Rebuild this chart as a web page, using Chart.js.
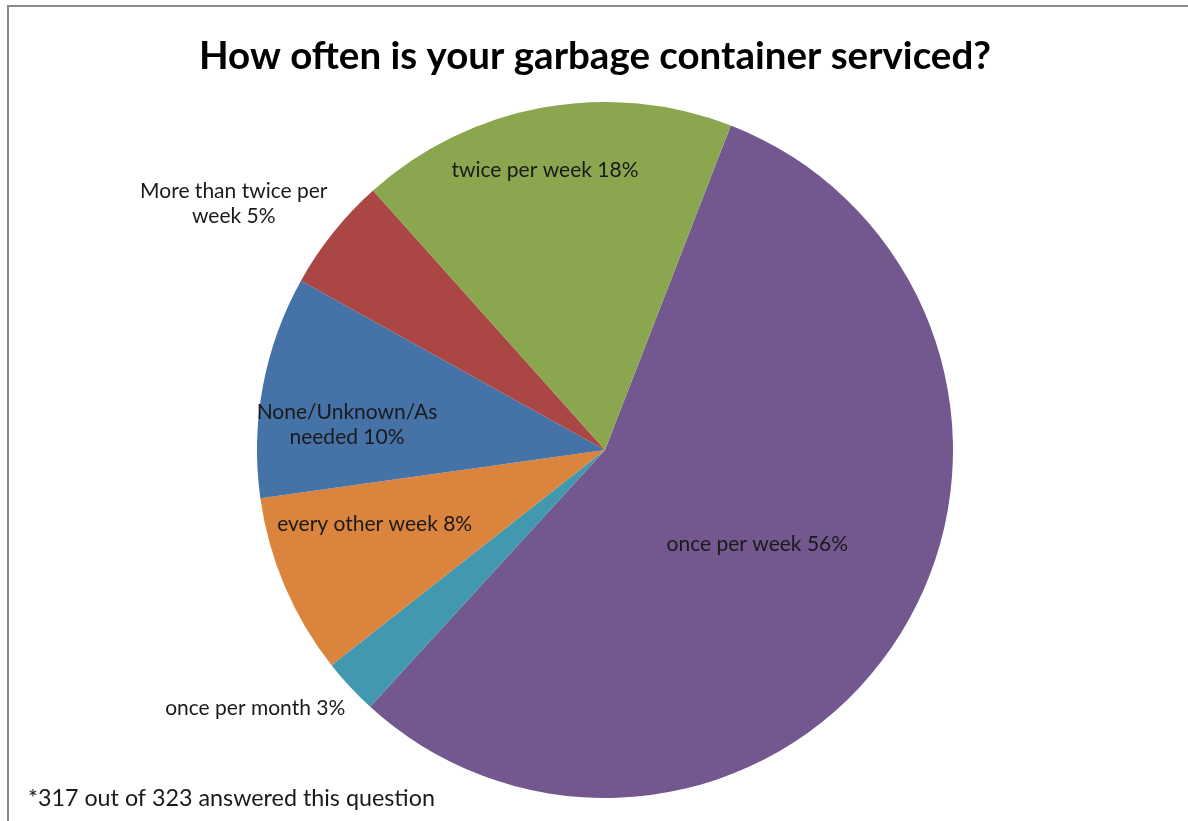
<!DOCTYPE html>
<html>
<head>
<meta charset="utf-8">
<script src="https://cdn.jsdelivr.net/npm/chart.js@4"></script>
<style>
  html, body { margin: 0; padding: 0; background: #fff; overflow: hidden; }
  #wrap { position: relative; width: 1188px; height: 821px; overflow: hidden; }
  #frame {
    position: absolute; left: 7px; top: 5px; width: 1300px; height: 900px;
    border-left: 2px solid #8a8a8a; border-top: 2px solid #8a8a8a;
    pointer-events: none;
  }
</style>
</head>
<body>
<div id="wrap">
  <canvas id="pie"></canvas>
  <div id="frame"></div>
</div>
<script>
// === Data ===
const categories = [
  "once per week",
  "once per month",
  "every other week",
  "None/Unknown/As needed",
  "More than twice per week",
  "twice per week"
];
const shares = [55.9, 2.6, 8.4, 10.3, 5.3, 17.5];
const colors = ["#72588F", "#4198AF", "#DB843D", "#4572A7", "#AA4643", "#8AA64F"];
const titleText = "How often is your garbage container serviced?";
const footnote = "*317 out of 323 answered this question";

// label placement per slice (radius factor, angle nudge in degrees, wrap width)
const labelRadius = [0.515, 1.25, 0.695, 0.745, 1.28, 0.823];
const labelShift = [0, 6.4, 5.3, -4.9, -5.1, -1.8];
const labelWrap = [0, 0, 0, 165, 205, 0];

const FONT = "Lato, 'Open Sans', sans-serif";

function wrapLines(ctx, text, maxW) {
  if (!maxW) return [text];
  const words = text.split(" ");
  const lines = [];
  let cur = "";
  words.forEach(w => {
    const test = cur ? cur + " " + w : w;
    if (cur && ctx.measureText(test).width > maxW) {
      lines.push(cur);
      cur = w;
    } else {
      cur = test;
    }
  });
  if (cur) lines.push(cur);
  return lines;
}

const textPlugin = {
  id: "textPlugin",
  afterDraw(chart) {
    const ctx = chart.ctx;
    ctx.save();

    // title
    ctx.fillStyle = "#000";
    ctx.font = "bold 38.5px " + FONT;
    ctx.textAlign = "center";
    ctx.textBaseline = "middle";
    ctx.fillText(titleText, 595, 57);

    // footnote
    ctx.font = "23.3px " + FONT;
    ctx.textAlign = "left";
    ctx.textBaseline = "alphabetic";
    ctx.fillStyle = "#1a1a1a";
    ctx.fillText(footnote, 28, 806);

    // slice labels
    const meta = chart.getDatasetMeta(0);
    const total = shares.reduce((a, b) => a + b, 0);
    ctx.font = "21px " + FONT;
    ctx.textAlign = "center";
    ctx.textBaseline = "middle";
    meta.data.forEach((arc, i) => {
      const p = arc.getProps(["x", "y", "startAngle", "endAngle", "outerRadius"], true);
      const mid = (p.startAngle + p.endAngle) / 2 + labelShift[i] * Math.PI / 180;
      const r = p.outerRadius * labelRadius[i];
      const lx = p.x + Math.cos(mid) * r;
      const ly = p.y + Math.sin(mid) * r;
      const pct = Math.round(shares[i] / total * 100);
      const text = categories[i] + " " + pct + "%";
      const lines = wrapLines(ctx, text, labelWrap[i]);
      const lh = 25;
      const y0 = ly - (lines.length - 1) * lh / 2;
      lines.forEach((ln, k) => ctx.fillText(ln, lx, y0 + k * lh));
    });

    ctx.restore();
  }
};

document.addEventListener("DOMContentLoaded", function () {
  const canvas = document.getElementById("pie");
  canvas.width = 1188;
  canvas.height = 821;

  new Chart(canvas, {
    type: "pie",
    data: {
      labels: categories,
      datasets: [{
        data: shares,
        backgroundColor: colors,
        borderWidth: 0
      }]
    },
    options: {
      responsive: false,
      animation: false,
      rotation: 21.2,
      layout: {
        padding: { left: 257, right: 235, top: 102, bottom: 23 }
      },
      plugins: {
        legend: { display: false },
        tooltip: { enabled: false },
        title: { display: false }
      }
    },
    plugins: [textPlugin]
  });
});
</script>
</body>
</html>
